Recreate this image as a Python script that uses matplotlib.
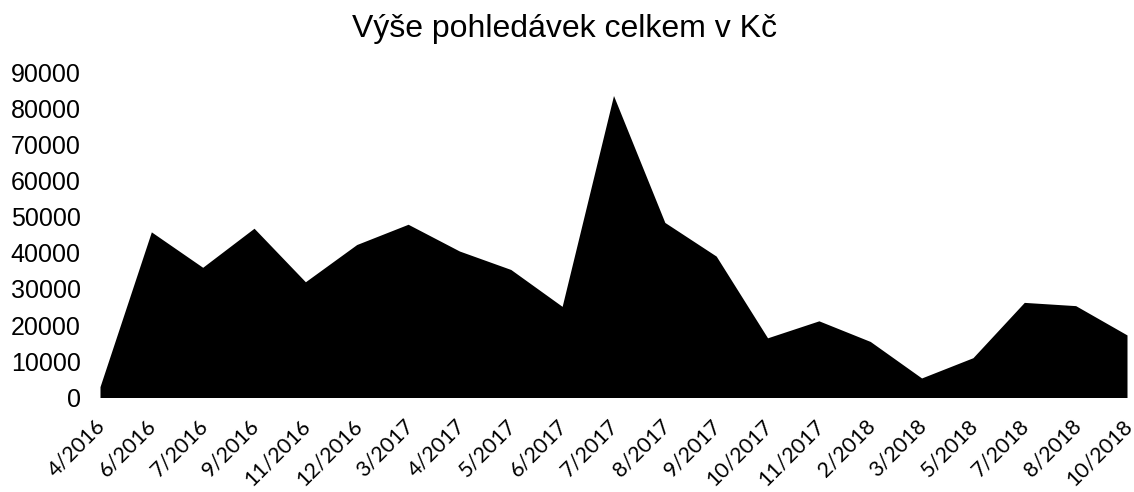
import numpy as np
import matplotlib.pyplot as plt
import matplotlib.transforms as mtransforms

plt.rcParams['font.family'] = ['Liberation Sans', 'DejaVu Sans']

# months and totals
months = ["4/2016", "6/2016", "7/2016", "9/2016", "11/2016", "12/2016",
          "3/2017", "4/2017", "5/2017", "6/2017", "7/2017", "8/2017",
          "9/2017", "10/2017", "11/2017", "2/2018", "3/2018", "5/2018",
          "7/2018", "8/2018", "10/2018"]
totals = [3000, 45800, 36000, 46800, 32000, 42300,
          47900, 40500, 35400, 25200, 83500, 48400,
          39100, 16500, 21200, 15500, 5400, 11000,
          26300, 25400, 17300]
yticks = list(range(0, 90001, 10000))

fig = plt.figure(figsize=(11.34, 4.92), dpi=100)
ax = fig.add_axes([100 / 1134, 1 - 397.5 / 492, 1027 / 1134, 325.5 / 492])

x = np.arange(len(months))
ax.fill_between(x, totals, 0, color="black", linewidth=0)

ax.set_xlim(0, len(months) - 1)
ax.set_ylim(0, 90000)
ax.set_yticks(yticks)
ax.set_yticklabels([str(v) for v in yticks], fontsize=18)
ax.set_xticks(x)
ax.set_xticklabels(months, rotation=45, ha="right", rotation_mode="anchor",
                   fontsize=15.5, family=["Lato", "DejaVu Sans"])
ax.tick_params(axis="y", length=0, pad=14)
ax.tick_params(axis="x", length=0, pad=13)
# nudge the slanted labels a little left so the last one stays inside
shift = mtransforms.ScaledTranslation(-5 / 100, 0, fig.dpi_scale_trans)
for lab in ax.get_xticklabels():
    lab.set_transform(lab.get_transform() + shift)
for s in ax.spines.values():
    s.set_visible(False)

fig.text(565 / 1134, 1 - 29 / 492, "Výše pohledávek celkem v Kč", ha="center",
         va="center", fontsize=23)

fig.savefig("out.png", dpi=100)
